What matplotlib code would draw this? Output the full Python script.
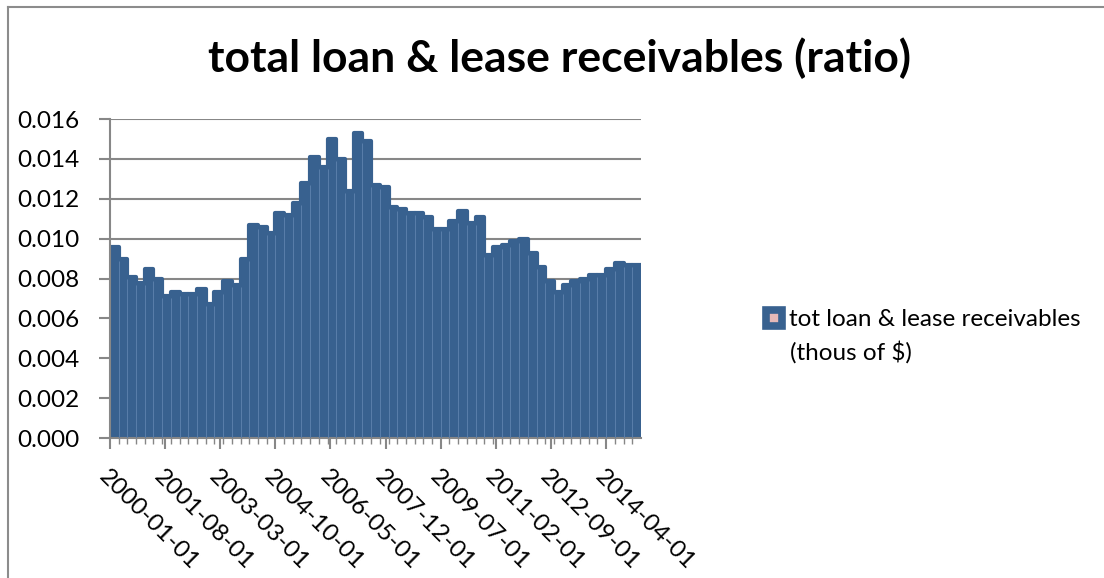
import numpy as np
import matplotlib.pyplot as plt
from matplotlib.lines import Line2D

# Quarterly ratio, 2000-01 .. 2015-01
dates = np.arange('2000-01', '2015-04', 3, dtype='datetime64[M]')
ratio = [0.0096, 0.0090, 0.0081, 0.0078, 0.0085, 0.0080, 0.0071, 0.0073,
         0.0072, 0.0072, 0.0075, 0.0067, 0.0073, 0.0079, 0.0077, 0.0090,
         0.0107, 0.0106, 0.0103, 0.0113, 0.0112, 0.0118, 0.0128, 0.0141,
         0.0136, 0.0150, 0.0140, 0.0124, 0.0153, 0.0149, 0.0127, 0.0126,
         0.0116, 0.0115, 0.0113, 0.0113, 0.0111, 0.0105, 0.0105, 0.0109,
         0.0114, 0.0108, 0.0111, 0.0092, 0.0096, 0.0097, 0.0099, 0.0100,
         0.0093, 0.0086, 0.0079, 0.0073, 0.0077, 0.0079, 0.0080, 0.0082,
         0.0082, 0.0085, 0.0088, 0.0087, 0.0087]
tick_dates = np.arange('2000-01', '2015-01', 19, dtype='datetime64[M]')
tick_labels = [str(d) + '-01' for d in tick_dates]

plt.rcParams['font.family'] = ['Lato', 'DejaVu Sans']

blue = '#38618f'
grid = '#878787'
fs = 17.5

fig = plt.figure(figsize=(11.04, 5.78), dpi=100)
ax = fig.add_axes([0.0996, 0.2422, 0.4810, 0.5518])

# month offsets from the first date
x = (dates - dates[0]).astype(int)
xt = (tick_dates - dates[0]).astype(int)

# thick round-joined outline gives the soft bar tops
ax.bar(x, ratio, width=3, align='edge', color=blue, edgecolor=blue,
       linewidth=3, joinstyle='round', zorder=2)
# faint separators between neighbouring bars
r = np.array(ratio)
ax.vlines(x[1:], 0, np.minimum(r[:-1], r[1:]) - 0.0001, color='#5a7eaa',
          linewidth=0.7, zorder=3)

ax.set_xlim(0, x[-1] + 3)
ax.set_ylim(0, 0.016)
yt = np.arange(0, 0.0161, 0.002)
ax.set_yticks(yt)
ax.set_yticklabels(['%.3f' % v for v in yt], fontsize=fs)
ax.yaxis.grid(True, color=grid, linewidth=1.5, zorder=0)
ax.set_axisbelow(True)

ax.set_xticks(xt)
ax.set_xticklabels(tick_labels, fontsize=fs, rotation=-45, ha='left',
                   va='top', rotation_mode='anchor')
ax.set_xticks(x, minor=True)
ax.tick_params(axis='x', which='major', length=8, width=1.5, color=grid, pad=12)
ax.tick_params(axis='x', which='minor', length=4, width=1, color=grid)
ax.tick_params(axis='y', length=8, width=1.5, color=grid, pad=14)

for s in ['top', 'right']:
    ax.spines[s].set_visible(False)
for s in ['left', 'bottom']:
    ax.spines[s].set_color(grid)
    ax.spines[s].set_linewidth(1.5)

fig.text(0.507, 0.9, 'total loan & lease receivables (ratio)', ha='center',
         va='center', fontsize=32, fontweight='bold')

handle = Line2D([], [], marker='s', ls='', ms=11, mfc='#e6b9b8', mec=blue,
                mew=5.5)
fig.legend([handle], ['tot loan & lease receivables'],
           loc='center left', bbox_to_anchor=(0.681, 0.447), frameon=False,
           fontsize=fs, handlelength=0.8, handletextpad=0.25, borderpad=0)
fig.text(0.7155, 0.391, '(thous of $)', ha='left', va='center', fontsize=fs)

# outer chart frame
fig.add_artist(Line2D([0.0068, 0.0068], [0, 0.988], color='#8c8c8c', lw=1.5))
fig.add_artist(Line2D([0.0068, 1], [0.988, 0.988], color='#8c8c8c', lw=1.5))

fig.savefig('out.png', dpi=100)
